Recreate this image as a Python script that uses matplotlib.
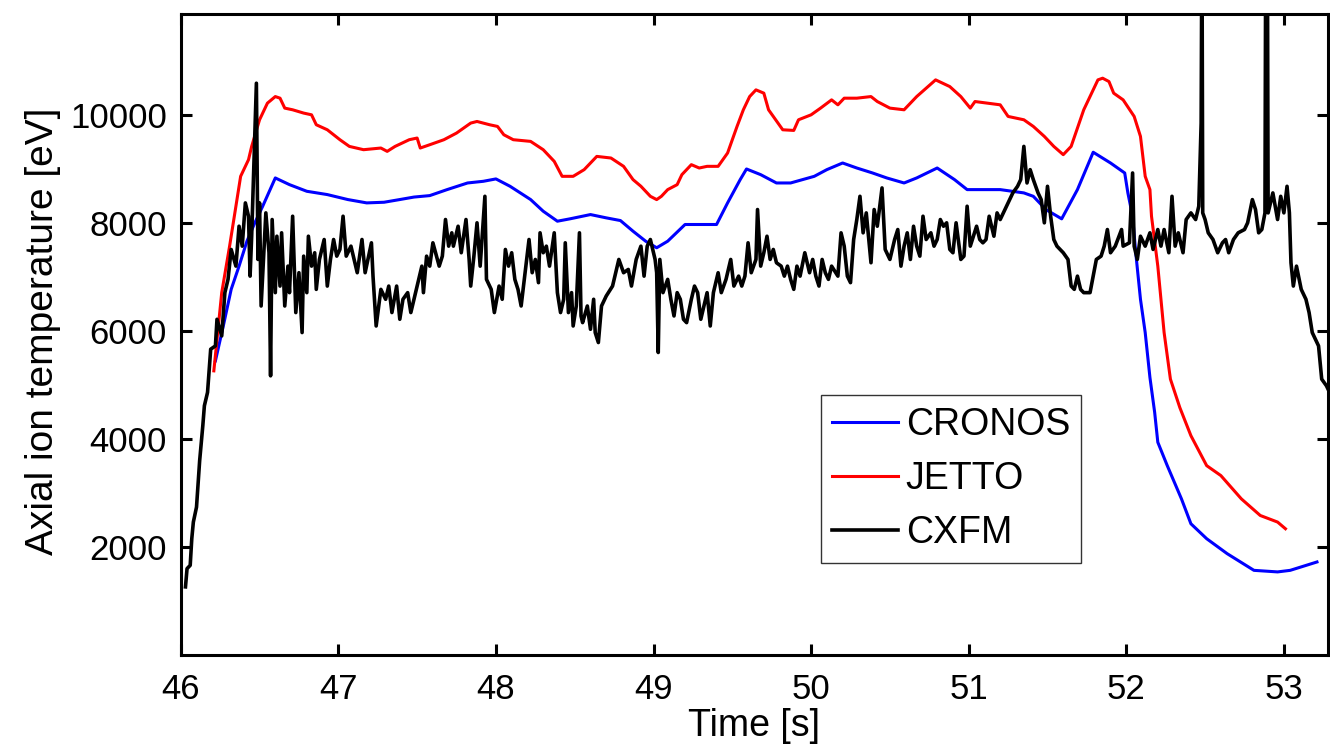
import matplotlib
matplotlib.use("Agg")
import matplotlib.pyplot as plt

plt.rcParams['font.family'] = ['Liberation Sans', 'DejaVu Sans']

# ---------------- data ----------------
cronos_t = [46.22, 46.27, 46.32, 46.37, 46.42, 46.47, 46.52, 46.60, 46.69, 46.80, 46.93, 47.06, 47.18,
            47.29, 47.39, 47.48, 47.58, 47.69, 47.82, 47.92, 48.00, 48.09, 48.22, 48.30, 48.39, 48.47,
            48.60, 48.70, 48.79, 48.87, 48.95, 49.02, 49.09, 49.20, 49.40, 49.47, 49.55, 49.59, 49.68,
            49.78, 49.87, 50.02, 50.10, 50.20, 50.29, 50.39, 50.48, 50.59, 50.67, 50.80, 50.91, 50.99,
            51.20, 51.35, 51.41, 51.49, 51.59, 51.69, 51.79, 51.90, 51.99, 52.01, 52.04, 52.06, 52.09,
            52.12, 52.15, 52.18, 52.20, 52.26, 52.35, 52.41, 52.51, 52.64, 52.81, 52.96, 53.04, 53.21]
cronos_T = [5447, 6093, 6771, 7201, 7663, 8003, 8310, 8834, 8710, 8587, 8526, 8434, 8372,
            8384, 8434, 8480, 8507, 8618, 8741, 8772, 8816, 8679, 8434, 8218, 8033, 8077,
            8156, 8095, 8045, 7848, 7663, 7541, 7663, 7972, 7972, 8372, 8803, 9000, 8895,
            8741, 8741, 8864, 8988, 9111, 9018, 8926, 8834, 8741, 8834, 9018, 8803, 8618,
            8618, 8557, 8494, 8249, 8077, 8618, 9310, 9111, 8926, 8557, 8125, 7449, 6587,
            5971, 5140, 4494, 3940, 3507, 2892, 2431, 2154, 1877, 1568, 1539, 1568, 1723]

jetto_t = [46.21, 46.26, 46.31, 46.38, 46.43, 46.45, 46.50, 46.55, 46.60, 46.63, 46.66, 46.71, 46.78,
           46.83, 46.86, 46.93, 47.01, 47.07, 47.16, 47.27, 47.31, 47.36, 47.45, 47.50, 47.52, 47.58,
           47.67, 47.75, 47.84, 47.88, 47.96, 48.01, 48.05, 48.11, 48.22, 48.30, 48.37, 48.42, 48.49,
           48.56, 48.64, 48.73, 48.81, 48.87, 48.92, 48.98, 49.02, 49.05, 49.09, 49.15, 49.18, 49.24,
           49.29, 49.34, 49.41, 49.47, 49.53, 49.57, 49.61, 49.65, 49.70, 49.73, 49.76, 49.82, 49.89,
           49.92, 50.00, 50.06, 50.13, 50.17, 50.21, 50.29, 50.38, 50.42, 50.50, 50.59, 50.67, 50.79,
           50.88, 50.95, 51.01, 51.04, 51.20, 51.25, 51.35, 51.41, 51.48, 51.54, 51.60, 51.65, 51.73,
           51.82, 51.85, 51.89, 51.92, 51.98, 52.05, 52.09, 52.12, 52.15, 52.16, 52.20, 52.24, 52.28,
           52.34, 52.41, 52.51, 52.60, 52.73, 52.85, 52.96, 53.01]
jetto_T = [5262, 6710, 7571, 8864, 9172, 9418, 9911, 10219, 10341, 10311, 10127, 10096, 10035,
           10003, 9819, 9726, 9542, 9418, 9357, 9388, 9326, 9418, 9542, 9573, 9388, 9449,
           9542, 9665, 9850, 9880, 9819, 9788, 9634, 9542, 9511, 9357, 9141, 8864, 8864,
           8988, 9233, 9203, 9049, 8803, 8680, 8494, 8433, 8494, 8618, 8710, 8895, 9080,
           9018, 9049, 9049, 9296, 9788, 10096, 10341, 10465, 10404, 10096, 9973, 9726, 9714,
           9911, 10003, 10127, 10280, 10188, 10311, 10311, 10341, 10249, 10127, 10096, 10341, 10650,
           10526, 10341, 10127, 10249, 10188, 9973, 9911, 9788, 9603, 9418, 9265, 9418, 10096,
           10650, 10681, 10619, 10404, 10280, 9973, 9603, 8864, 8618, 8125, 7201, 5971, 5109,
           4580, 4062, 3507, 3323, 2892, 2584, 2462, 2338]

cxfm_t = [46.03, 46.04, 46.06, 46.07, 46.08, 46.10, 46.12, 46.14, 46.15, 46.17, 46.19, 46.22, 46.23,
          46.26, 46.28, 46.30, 46.32, 46.35, 46.37, 46.39, 46.41, 46.43, 46.44, 46.45, 46.48, 46.49,
          46.50, 46.51, 46.54, 46.56, 46.57, 46.58, 46.60, 46.61, 46.63, 46.64, 46.66, 46.68, 46.69,
          46.71, 46.73, 46.75, 46.77, 46.78, 46.80, 46.81, 46.83, 46.85, 46.86, 46.88, 46.91, 46.93,
          46.95, 46.97, 46.99, 47.01, 47.03, 47.05, 47.08, 47.10, 47.12, 47.15, 47.17, 47.21, 47.22,
          47.24, 47.27, 47.30, 47.32, 47.34, 47.37, 47.39, 47.41, 47.44, 47.46, 47.50, 47.53, 47.54,
          47.56, 47.58, 47.60, 47.64, 47.66, 47.68, 47.70, 47.72, 47.73, 47.76, 47.78, 47.81, 47.83,
          47.84, 47.86, 47.88, 47.90, 47.93, 47.94, 47.97, 47.99, 48.02, 48.04, 48.06, 48.08, 48.10,
          48.12, 48.14, 48.16, 48.19, 48.21, 48.23, 48.25, 48.27, 48.28, 48.30, 48.32, 48.34, 48.37,
          48.39, 48.41, 48.43, 48.44, 48.46, 48.48, 48.49, 48.51, 48.53, 48.54, 48.55, 48.58, 48.60,
          48.62, 48.63, 48.65, 48.67, 48.70, 48.74, 48.78, 48.81, 48.84, 48.86, 48.89, 48.92, 48.94,
          48.96, 48.98, 49.01, 49.02, 49.03, 49.04, 49.06, 49.09, 49.11, 49.13, 49.15, 49.17, 49.19,
          49.21, 49.24, 49.26, 49.28, 49.30, 49.32, 49.34, 49.36, 49.38, 49.41, 49.43, 49.46, 49.49,
          49.51, 49.54, 49.56, 49.58, 49.60, 49.62, 49.65, 49.66, 49.68, 49.70, 49.72, 49.74, 49.76,
          49.78, 49.81, 49.83, 49.85, 49.87, 49.89, 49.91, 49.93, 49.96, 49.99, 50.01, 50.03, 50.05,
          50.07, 50.09, 50.11, 50.13, 50.17, 50.19, 50.21, 50.23, 50.25, 50.27, 50.29, 50.31, 50.33,
          50.35, 50.38, 50.40, 50.42, 50.45, 50.47, 50.50, 50.53, 50.55, 50.57, 50.59, 50.61, 50.63,
          50.65, 50.67, 50.69, 50.71, 50.73, 50.76, 50.78, 50.80, 50.82, 50.84, 50.86, 50.88, 50.90,
          50.92, 50.95, 50.97, 50.99, 51.01, 51.03, 51.05, 51.07, 51.09, 51.11, 51.13, 51.16, 51.18,
          51.20, 51.22, 51.24, 51.26, 51.28, 51.31, 51.33, 51.35, 51.37, 51.39, 51.41, 51.44, 51.46,
          51.48, 51.50, 51.52, 51.54, 51.56, 51.58, 51.60, 51.63, 51.65, 51.67, 51.69, 51.71, 51.73,
          51.77, 51.79, 51.81, 51.84, 51.86, 51.88, 51.90, 51.93, 51.97, 51.98, 52.02, 52.04, 52.05,
          52.07, 52.09, 52.12, 52.15, 52.17, 52.20, 52.22, 52.24, 52.27, 52.29, 52.31, 52.33, 52.36,
          52.38, 52.41, 52.44, 52.46, 52.475, 52.48, 52.485, 52.50, 52.52, 52.55, 52.58, 52.61, 52.63,
          52.65, 52.68, 52.71, 52.75, 52.77, 52.80, 52.82, 52.84, 52.86, 52.88, 52.885, 52.895, 52.90,
          52.93, 52.96, 52.98, 53.00, 53.02, 53.035, 53.045, 53.06, 53.08, 53.11, 53.14, 53.16, 53.18,
          53.20, 53.22, 53.24, 53.27, 53.29]
cxfm_T = [1262, 1600, 1661, 2154, 2462, 2739, 3600, 4246, 4616, 4863, 5663, 5724, 6217,
          5909, 6710, 6956, 7510, 7201, 7940, 7571, 8372, 8125, 7016, 7755, 10588, 7325,
          8372, 6463, 8187, 7449, 5170, 8064, 6710, 7755, 6832, 7818, 6463, 7201, 6710,
          8125, 6341, 7079, 5971, 7386, 6710, 7755, 7201, 7449, 6771, 7325, 7694, 6832,
          7325, 7694, 7386, 7510, 8125, 7386, 7571, 7325, 7079, 7694, 7079, 7633, 7016,
          6093, 6771, 6587, 6832, 6341, 6832, 6217, 6587, 6710, 6341, 6832, 7201, 6710,
          7386, 7201, 7633, 7201, 7386, 8064, 7571, 7818, 7571, 7940, 7449, 8064, 7325,
          6832, 7380, 8003, 7201, 8494, 6956, 6771, 6341, 6832, 6587, 7510, 7201, 7449,
          6956, 6771, 6463, 7201, 7694, 7079, 7325, 6895, 7818, 7449, 7571, 7201, 7818,
          6710, 6341, 6587, 7633, 6341, 6710, 6093, 6463, 7818, 6278, 6155, 6463, 6032,
          6587, 5971, 5786, 6463, 6648, 6832, 7325, 7079, 7140, 6832, 7325, 7571, 7016,
          7571, 7694, 7325, 7079, 5602, 7325, 6710, 6956, 6587, 6278, 6710, 6587, 6217,
          6155, 6587, 6832, 6710, 6217, 6463, 6710, 6093, 6710, 7079, 6710, 6956, 7325,
          6832, 7016, 6832, 7016, 7633, 7079, 7325, 8249, 7201, 7449, 7755, 7325, 7510,
          7264, 7201, 7016, 7201, 6956, 6771, 7201, 7016, 7449, 7079, 7325, 7016, 6832,
          7325, 7079, 6956, 7201, 7016, 7818, 7571, 7016, 6895, 7694, 8064, 8494, 7818,
          8187, 7264, 8249, 7940, 8649, 7510, 7325, 7694, 7879, 7201, 7571, 7818, 7325,
          7940, 7571, 7386, 8125, 7694, 7818, 7571, 7694, 8064, 7940, 8003, 7510, 7449,
          8003, 7325, 7386, 8310, 7571, 7755, 7940, 7694, 7633, 7694, 8125, 7755, 8187,
          8064, 8187, 8310, 8433, 8557, 8679, 8803, 9418, 8741, 8988, 8803, 8557, 8433,
          8003, 8679, 8125, 7694, 7571, 7510, 7449, 7325, 6832, 6771, 7016, 6771, 6710,
          6710, 7016, 7325, 7386, 7571, 7879, 7449, 7571, 7879, 7571, 7633, 8926, 7571,
          7325, 7755, 7571, 7818, 7510, 7879, 7571, 7879, 7449, 8494, 7571, 7818, 7449,
          8064, 8187, 8064, 8310, 9850, 13500, 8187, 8064, 7818, 7694, 7449, 7633, 7694,
          7449, 7694, 7818, 7879, 8003, 8433, 8249, 7818, 7879, 8187, 13500, 13500, 8187,
          8557, 8064, 8494, 8187, 8679, 8187, 7264, 6832, 7201, 6771, 6587, 6341, 5971,
          5848, 5724, 5109, 4986, 4863]

labels = ['CRONOS', 'JETTO', 'CXFM']
colors = ['#0000ff', '#ff0000', '#000000']
xticks = [46, 47, 48, 49, 50, 51, 52, 53]
yticks = [2000, 4000, 6000, 8000, 10000]

# ---------------- figure ----------------
fig = plt.figure(figsize=(13.30, 7.48), dpi=100)
ax = fig.add_axes([0.1359, 0.1243, 0.8626, 0.8570])

lw = 2.2
ax.plot(cronos_t, cronos_T, color=colors[0], lw=lw, label=labels[0])
ax.plot(jetto_t, jetto_T, color=colors[1], lw=lw, label=labels[1])
ax.plot(cxfm_t, cxfm_T, color=colors[2], lw=2.6, label=labels[2])

ax.set_xlim(46, 53.28)
ax.set_ylim(0, 11870)
ax.set_xticks(xticks)
ax.set_yticks(yticks)
ax.set_xticklabels([str(v) for v in xticks])
ax.set_yticklabels([str(v) for v in yticks])

ax.tick_params(direction='in', length=8, width=2.2, labelsize=25,
               top=True, right=True, pad=10)
ax.tick_params(axis='x', pad=13)
for s in ax.spines.values():
    s.set_linewidth(2.2)

ax.set_xlabel('Time [s]', fontsize=27)
ax.set_ylabel('Axial ion temperature [eV]', fontsize=28)
ax.xaxis.set_label_coords(0.5, -0.082)
ax.yaxis.set_label_coords(-0.104, 0.505)

leg = ax.legend(loc='lower left', bbox_to_anchor=(0.5578, 0.144), borderaxespad=0,
                fontsize=27, handlelength=1.75, handletextpad=0.22, labelspacing=0.49,
                borderpad=0.3, fancybox=False, framealpha=1, edgecolor='#333333')
leg.get_frame().set_linewidth(1.0)

fig.savefig('out.png', dpi=100)
